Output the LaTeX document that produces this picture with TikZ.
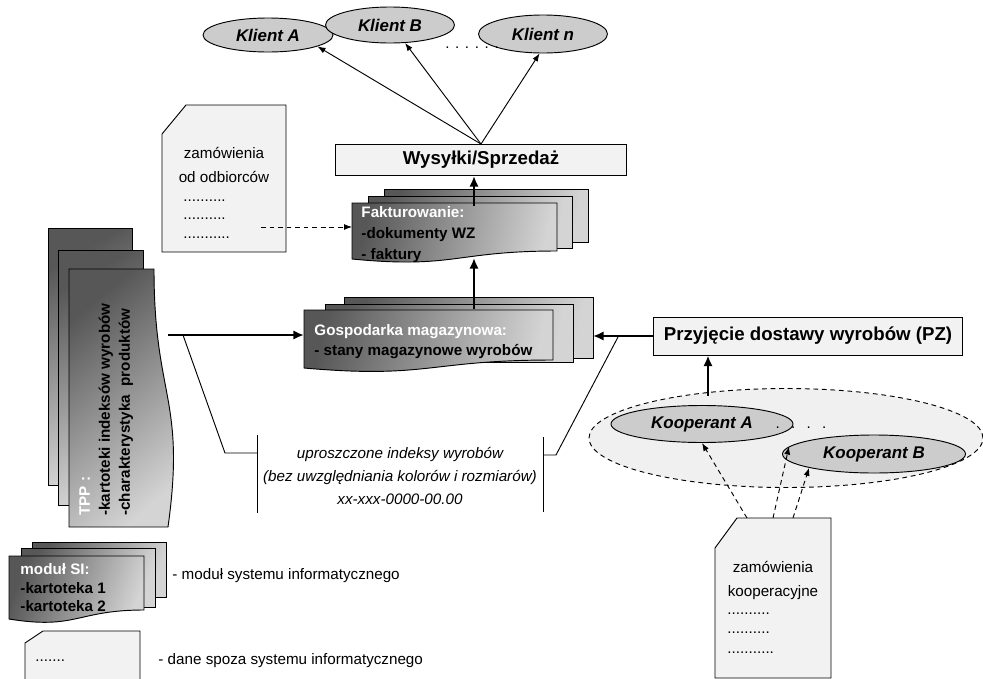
\documentclass[tikz,border=0pt]{standalone}
\usepackage{fontspec}
\setmainfont{Liberation Sans}
\usetikzlibrary{shapes.geometric,arrows.meta}

\pgfdeclarehorizontalshading{sheetshade}{100bp}{color(0bp)=(black!66); color(25bp)=(black!66); color(75bp)=(black!17); color(100bp)=(black!17)}

\tikzset{
  sheetback/.style={draw, shading=sheetshade, shading angle=-12},
  sheetfront/.style={draw, shading=sheetshade, shading angle=-12},
  docsheet/.style={draw, fill=black!5},
  klient/.style={ellipse, draw, fill=black!20, inner sep=0pt, font=\fontsize{12.7}{15}\selectfont\bfseries\itshape},
  plainbox/.style={draw, fill=black!5, inner sep=0pt, font=\fontsize{14}{16}\selectfont\bfseries},
  txt/.style={inner sep=0pt, font=\fontsize{11.4}{14}\selectfont},
  stacktxt/.style={inner sep=0pt, font=\fontsize{11.4}{15}\selectfont\bfseries},
  fatarrow/.style={-{Latex[length=8pt,width=7pt]}, line width=2.2pt},
  thinarrow/.style={-{Latex[length=6pt,width=4.5pt]}, line width=0.7pt},
  dasharrow/.style={-{Latex[length=6pt,width=4.5pt]}, line width=0.7pt, dash pattern=on 3.6pt off 2.8pt},
}

\begin{document}
\begin{tikzpicture}[x=0.75pt,y=0.75pt,yscale=-1,xscale=1,line width=0.7pt]
\useasboundingbox (0,0) rectangle (983,679);

%Shape: Ellipse
\node (klientA) at (268,35) [klient, minimum width=97.5pt, minimum height=25.5pt] {Klient A};
%Shape: Ellipse
\node (klientB) at (390,25) [klient, minimum width=96.75pt, minimum height=27pt] {Klient B};
%Shape: Ellipse
\node (klientN) at (543,34) [klient, minimum width=96.75pt, minimum height=28.5pt] {Klient n};
% Text Node
\node (klientDots) at (472,48) [txt] {. . . . . .};

%Shape: Rectangle
\node (wys) at (481,160) [plainbox, minimum width=218.25pt, minimum height=23.25pt] {Wysyłki/Sprzedaż};

%Shape: Document
\draw [docsheet] (186,105) -- (286,105) -- (286,252) -- (162,252) -- (162,134) -- cycle ;
% Text Node
\node (odbT) at (224,165) [txt, align=center, font=\fontsize{11.4}{18}\selectfont] {zamówienia\\od odbiorców};
% Text Node
\node (odbD) at (183,219) [txt, anchor=west, align=left] {..........\\..........\\...........};

%Shape: Stack (Fakturowanie)
\draw [sheetback] (384,189) rectangle (588,242) ;
\draw [sheetback] (368,196) rectangle (572,248) ;
\draw [sheetfront] (352,203) -- (557,203) -- (557,251) .. controls (454.5,251) and (454.5,269) .. (352,259) -- cycle ;
% Text Node
\node (faktT) at (361,206) [stacktxt, anchor=north west, align=left, font=\fontsize{11.4}{15.75}\selectfont\bfseries] {\textcolor{white}{Fakturowanie:}\\-dokumenty WZ\\- faktury};

%Shape: Stack (Gospodarka)
\draw [sheetback] (344,297) rectangle (593,358) ;
\draw [sheetback] (325,304) rectangle (573,362) ;
\draw [sheetfront] (304,310) -- (553,310) -- (553,360) .. controls (428.5,360) and (428.5,379) .. (304,368) -- cycle ;
% Text Node
\node (gospT) at (314,324) [stacktxt, anchor=north west, align=left] {\textcolor{white}{Gospodarka magazynowa:}\\- stany magazynowe wyrobów};

%Shape: Stack (TPP)
\draw [sheetback, shading angle=-60] (48,228) rectangle (132,485) ;
\draw [sheetback, shading angle=-60] (58,250) rectangle (143,505) ;
\draw [sheetfront, shading angle=-50] (69,269) -- (154,269) .. controls (154,398) and (186,398) .. (168,527) -- (69,527) -- cycle ;
% Text Node
\node (tppT) at (79,516) [stacktxt, rotate=90, anchor=north west, align=left] {\textcolor{white}{TPP :}\\-kartoteki indeksów wyrobów\\-charakterystyka\ \ produktów};

%Shape: Rectangle
\node (prz) at (808,336) [plainbox, minimum width=231.75pt, minimum height=28.5pt] {Przyjęcie dostawy wyrobów (PZ)};

%Shape: Ellipse (group)
\node (koop) at (786,438) [ellipse, draw, fill=black!6, dash pattern=on 3.6pt off 2.8pt, minimum width=295.5pt, minimum height=74.25pt] {};
%Shape: Ellipse
\node (koopA) at (702,424) [klient, minimum width=136.5pt, minimum height=27.75pt] {Kooperant A};
%Shape: Ellipse
\node (koopB) at (874,454) [klient, minimum width=137.25pt, minimum height=28.5pt] {Kooperant B};
% Text Node
\node (koopDots) at (801,428) [txt] {.\hspace{8.5pt}.\hspace{8.5pt}.\hspace{8.5pt}.};

%Shape: Document
\draw [docsheet] (737,518) -- (831,518) -- (831,678) -- (715,678) -- (715,548) -- cycle ;
% Text Node
\node (kdocT) at (773,580) [txt, align=center, font=\fontsize{11.4}{18}\selectfont] {zamówienia\\kooperacyjne};
% Text Node
\node (kdocD) at (727,633) [txt, anchor=west, align=left, font=\fontsize{11.4}{14.6}\selectfont] {..........\\..........\\...........};

% Text Node
\node (idx) at (400,476) [txt, align=center, font=\fontsize{11.4}{16.9}\selectfont\itshape] {uproszczone indeksy wyrobów\\(bez uwzględniania\ kolorów i rozmiarów)\\xx-xxx-0000-00.00};

%Shape: Stack (legend)
\draw [sheetback, shading angle=-20] (32,542) rectangle (166,597) ;
\draw [sheetback, shading angle=-20] (21,548) rectangle (155,607) ;
\draw [sheetfront, shading angle=-20] (9,556) -- (144,556) -- (144,610) .. controls (76.5,610) and (76.5,630) .. (9,619) -- cycle ;
% Text Node
\node (modT) at (20,563) [stacktxt, anchor=north west, align=left, font=\fontsize{11.4}{13.9}\selectfont\bfseries] {\textcolor{white}{moduł SI:}\\-kartoteka 1\\-kartoteka 2};
% Text Node
\node (modL) at (172,576) [txt, anchor=west] {- moduł systemu informatycznego};

%Shape: Document (legend)
\draw [docsheet] (43,631) -- (140,631) -- (140,690) -- (25,690) -- (25,643) -- cycle ;
% Text Node
\node (docD) at (35,661) [txt, anchor=west] {.......};
% Text Node
\node (docL) at (158,661) [txt, anchor=west] {- dane spoza systemu informatycznego};

% Coordinates for connectors
\coordinate (faktN) at (474,206);
\coordinate (faktS) at (474,258);
\coordinate (faktW) at (352,227);
\coordinate (gospN) at (474,309);
\coordinate (gospW) at (304,335);
\coordinate (gospE) at (593,336);
\coordinate (tppE) at (168,335);
\coordinate (odbE) at (261,227);
\coordinate (koopN) at (708,396);
\coordinate (kdoc1) at (747,518);
\coordinate (kdoc2) at (773,518);
\coordinate (kdoc3) at (793,518);
\coordinate (calL) at (183,335);
\coordinate (calR) at (618,337);
\coordinate (barL) at (257,453);
\coordinate (barR) at (543,455);

%Straight Lines
\draw [thinarrow] (wys.north) -- (klientA.-13) ;
\draw [thinarrow] (wys.north) -- (klientB.-50) ;
\draw [thinarrow] (wys.north) -- (klientN.-100) ;
\draw [fatarrow] (faktN) -- (wys.south -| faktN) ;
\draw [fatarrow] (gospN) -- (faktS) ;
\draw [fatarrow] (tppE) -- (gospW) ;
\draw [fatarrow] (prz.west) -- (gospE) ;
\draw [fatarrow] (koopN) -- (prz.south -| koopN) ;
\draw [dasharrow] (odbE) -- (faktW) ;
\draw [dasharrow] (kdoc1) -- (koopA.south) ;
\draw [dasharrow] (kdoc2) -- (koopB.175) ;
\draw [dasharrow] (kdoc3) -- (koopB.-168) ;

%Callout
\draw (calL) -- (225,453) -- (barL) ;
\draw (257,435) -- (257,513) ;
\draw (calR) -- (556,455) -- (barR) ;
\draw (543,437) -- (543,512) ;

\end{tikzpicture}
\end{document}
